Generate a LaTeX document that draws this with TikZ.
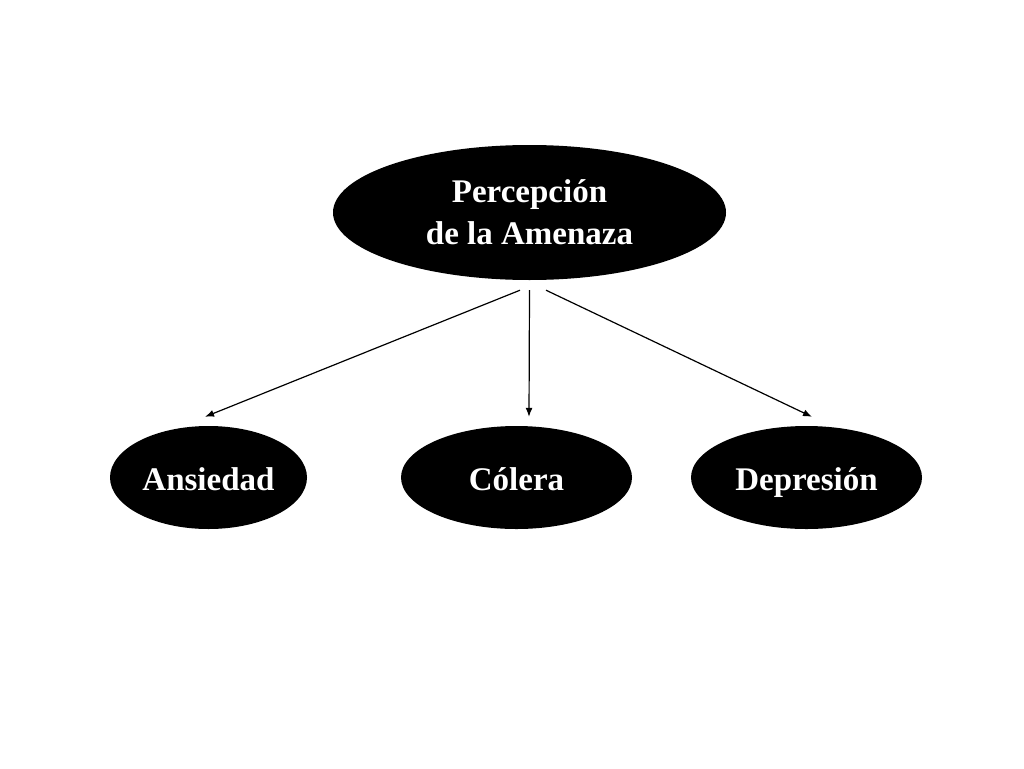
\documentclass[tikz,border=0pt]{standalone}
\usepackage{fontspec}
\setmainfont{Liberation Serif}
\usetikzlibrary{shapes.geometric,arrows.meta,calc}
\tikzset{
  blob/.style={ellipse, fill=black, draw=none, inner sep=0pt, text=white,
    font=\bfseries\fontsize{33}{42}\selectfont, align=center},
  oneline/.style={text height=25pt, text depth=0pt},
  conn/.style={line width=1.2pt, -{Latex[length=9pt,width=7pt]}}
}
\begin{document}
\begin{tikzpicture}[x=1pt,y=-1pt]
\useasboundingbox[fill=white] (0,0) rectangle (1024,768);
\node[blob, minimum width=393pt, minimum height=135pt] (top) at (529.5,212.5) {Percepción\\de la Amenaza};
\node[blob, oneline, minimum width=197pt, minimum height=103pt] (ans) at (208.5,477.5) {Ansiedad};
\node[blob, oneline, minimum width=231pt, minimum height=103pt] (col) at (516.5,477.5) {Cólera};
\node[blob, oneline, minimum width=231pt, minimum height=103pt] (dep) at (806.5,477.5) {Depresión};
\coordinate (s1) at ($(top.south)+(-9.5,10)$);
\coordinate (s2) at ($(top.south)+(0,10)$);
\coordinate (s3) at ($(top.south)+(16.5,10)$);
\coordinate (e1) at ($(ans.north)+(-3.5,-9)$);
\coordinate (e2) at ($(col.north)+(12.5,-9)$);
\coordinate (e3) at ($(dep.north)+(5.5,-9)$);
\draw[conn] (s1) -- (e1);
\draw[conn] (s2) -- (e2);
\draw[conn] (s3) -- (e3);
\end{tikzpicture}
\end{document}
